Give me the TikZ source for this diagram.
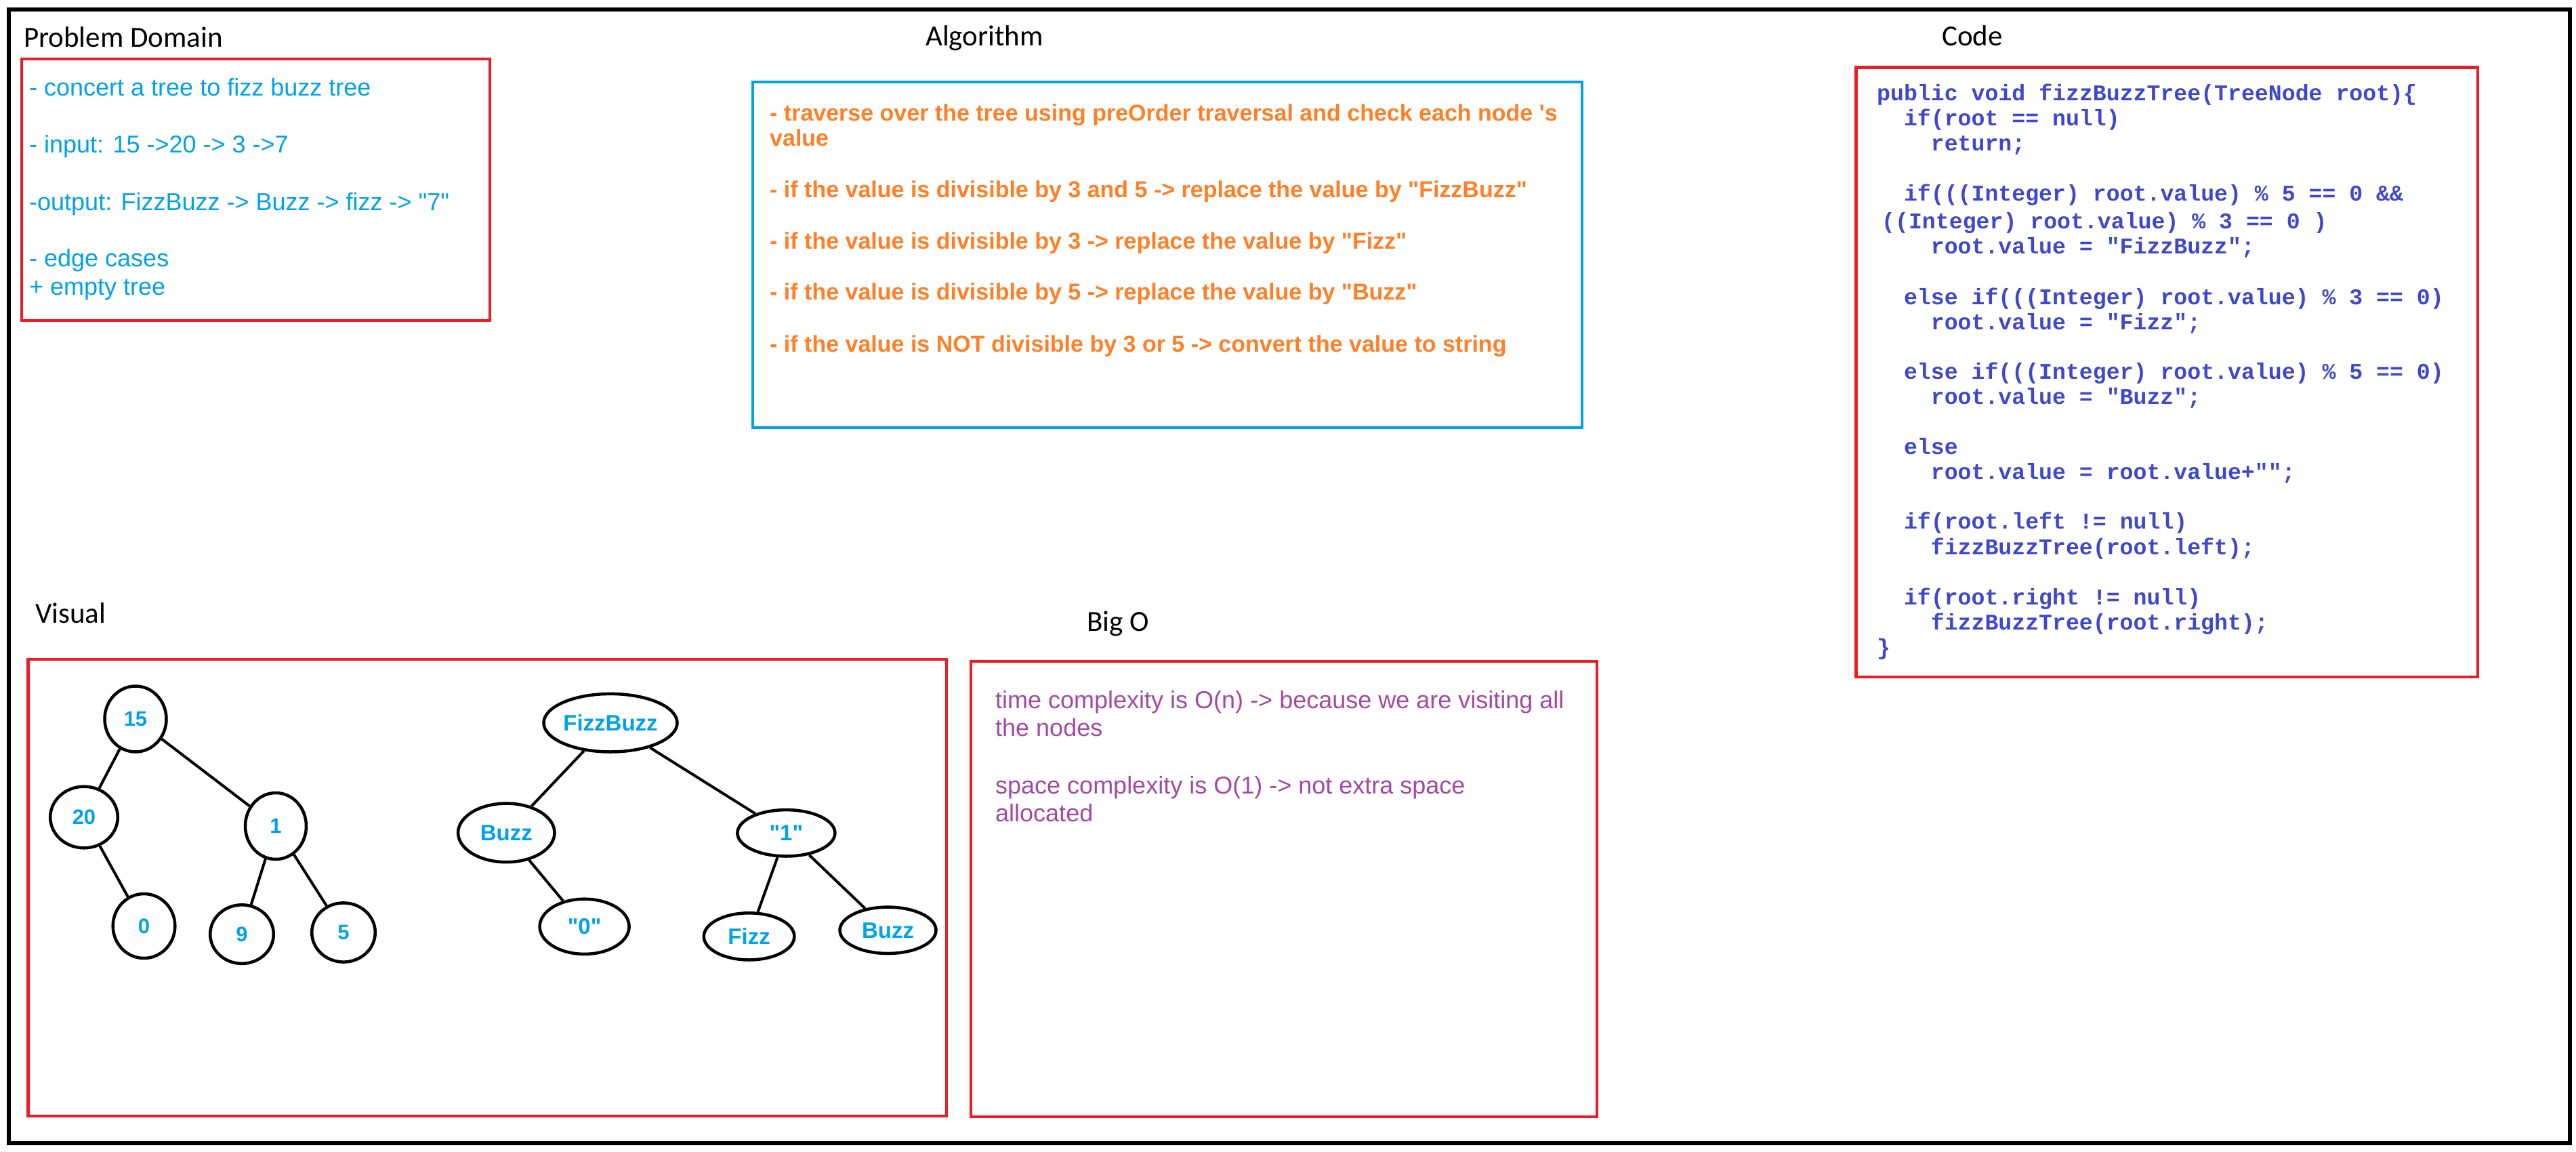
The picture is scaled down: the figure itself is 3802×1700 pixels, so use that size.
\documentclass[tikz,border=0pt]{standalone}
\usepackage{fontspec}
\newfontfamily\arialf{Liberation Sans}
\newfontfamily\calf{Carlito}
\newfontfamily\courf{Liberation Mono}
\usetikzlibrary{shapes.geometric}
\definecolor{pred}{HTML}{ED1C24}
\definecolor{pblue}{HTML}{00A2E8}
\definecolor{porange}{HTML}{FF7F27}
\definecolor{ppurple}{HTML}{A349A4}
\definecolor{pindigo}{HTML}{3F48CC}
\begin{document}
\begin{tikzpicture}[x=1pt,y=-1pt,
  title/.style={anchor=base west,inner sep=0pt,font=\calf\fontsize{43}{52}\selectfont,text=black},
  pdtext/.style={anchor=base west,inner sep=0pt,font=\arialf\fontsize{36}{41}\selectfont,text=pblue},
  algtext/.style={anchor=base west,inner sep=0pt,font=\arialf\bfseries\fontsize{34}{39}\selectfont,text=porange},
  codetext/.style={anchor=base west,inner sep=0pt,font=\courf\bfseries\fontsize{33.2}{37}\selectfont,text=pindigo},
  bigotext/.style={anchor=base west,inner sep=0pt,font=\arialf\fontsize{36}{41}\selectfont,text=ppurple},
  redbox/.style={draw=pred,line width=4.5pt},
  bluebox/.style={draw=pblue,line width=4.5pt},
  tnode/.style={ellipse,draw=black,line width=4.5pt,inner sep=0pt,text=pblue,font=\arialf\bfseries\fontsize{31}{36}\selectfont},
  wnode/.style={tnode,font=\arialf\bfseries\fontsize{33}{38}\selectfont},
  tedge/.style={draw=black,line width=4pt}
]
\fill[white] (0,0) rectangle (3802,1700);
\useasboundingbox (0,0) rectangle (3802,1700);
% outer frame
\draw[black,line width=5.5pt] (13,14) rectangle (3793,1687);

% titles
\node[title] (tpd) at (35,69) {Problem Domain};
\node[title] (talg) at (1366,67) {Algorithm};
\node[title] (tcode) at (2866,67) {Code};
\node[title] (tvis) at (52,919.5) {Visual};
\node[title] (tbig) at (1604,931) {Big O};

% Problem domain
\draw[redbox] (32,87) rectangle (723,473);
\node[pdtext] (pd1) at (43,141.7) {- concert a tree to fizz buzz tree};
\node[pdtext] (pd2) at (43,225) {- input: 15 ->20 -> 3 ->7};
\node[pdtext] (pd3) at (43,310) {-output: FizzBuzz -> Buzz -> fizz -> "7"};
\node[pdtext] (pd4) at (43,393) {- edge cases};
\node[pdtext] (pd5) at (43,435) {+ empty tree};

% Algorithm
\draw[bluebox] (1111,121) rectangle (2335,631);
\node[algtext] (al1) at (1136,178) {- traverse over the tree using preOrder traversal and check each node 's};
\node[algtext] (al2) at (1136,215) {value};
\node[algtext] (al3) at (1136,291) {- if the value is divisible by 3 and 5 -> replace the value by "FizzBuzz"};
\node[algtext] (al4) at (1136,367) {- if the value is divisible by 3 -> replace the value by "Fizz"};
\node[algtext] (al5) at (1136,442.5) {- if the value is divisible by 5 -> replace the value by "Buzz"};
\node[algtext] (al6) at (1136,519) {- if the value is NOT divisible by 3 or 5 -> convert the value to string};

% Code
\draw[redbox] (2739.4,99.4) rectangle (3657,999);
\node[codetext] (c1) at (2770,148.3) {public void fizzBuzzTree(TreeNode root)\{};
\node[codetext] (c2) at (2809.8,185.4) {if(root == null)};
\node[codetext] (c3) at (2849.6,222.5) {return;};
\node[codetext] (c4) at (2809.8,296) {if(((Integer) root.value) \% 5 == 0 \&\&};
\node[codetext] (c5) at (2777,337) {((Integer) root.value) \% 3 == 0 )};
\node[codetext] (c6) at (2849.6,374) {root.value = "FizzBuzz";};
\node[codetext] (c7) at (2809.8,449) {else if(((Integer) root.value) \% 3 == 0)};
\node[codetext] (c8) at (2849.6,486) {root.value = "Fizz";};
\node[codetext] (c9) at (2809.8,559.5) {else if(((Integer) root.value) \% 5 == 0)};
\node[codetext] (c10) at (2849.6,596.6) {root.value = "Buzz";};
\node[codetext] (c11) at (2809.8,670) {else};
\node[codetext] (c12) at (2849.6,707) {root.value = root.value+"";};
\node[codetext] (c13) at (2809.8,780.7) {if(root.left != null)};
\node[codetext] (c14) at (2849.6,818.5) {fizzBuzzTree(root.left);};
\node[codetext] (c15) at (2809.8,892.6) {if(root.right != null)};
\node[codetext] (c16) at (2849.6,929) {fizzBuzzTree(root.right);};
\node[codetext] (c17) at (2770,966) {\}};

% Visual
\draw[redbox] (41.5,973) rectangle (1397,1647);
\node[tnode,minimum width=91pt,minimum height=97pt] (n15) at (200,1061) {15};
\node[tnode,minimum width=99.6pt,minimum height=90.6pt] (n20) at (124,1206) {20};
\node[tnode,minimum width=90pt,minimum height=98pt] (n1) at (407,1219) {1};
\node[tnode,minimum width=91.6pt,minimum height=95pt] (n0) at (212.5,1366.5) {0};
\node[tnode,minimum width=93.6pt,minimum height=86.6pt] (n9) at (357,1378.6) {9};
\node[tnode,minimum width=93.6pt,minimum height=87.2pt] (n5) at (507,1376) {5};
\draw[tedge] (n15) -- (n20);
\draw[tedge] (n15) -- (n1);
\draw[tedge] (n20) -- (n0);
\draw[tedge] (n1) -- (n9);
\draw[tedge] (n1) -- (n5);

\node[wnode,minimum width=189.6pt,minimum height=85.6pt] (fb) at (901,1066.7) {FizzBuzz};
\node[wnode,minimum width=142.4pt,minimum height=86.6pt] (bz1) at (747.3,1228.9) {Buzz};
\node[wnode,minimum width=144pt,minimum height=68.4pt] (q1) at (1160.4,1229.3) {"1"};
\node[wnode,minimum width=132pt,minimum height=81.2pt] (q0) at (862.6,1367.3) {"0"};
\node[wnode,minimum width=133.6pt,minimum height=69.2pt] (fz) at (1105.6,1381.9) {Fizz};
\node[wnode,minimum width=142pt,minimum height=68.4pt] (bz2) at (1310.5,1372.8) {Buzz};
\draw[tedge] (fb) -- (bz1);
\draw[tedge] (fb) -- (q1);
\draw[tedge] (bz1) -- (q0);
\draw[tedge] (q1) -- (fz);
\draw[tedge] (q1) -- (bz2);

% Big O
\draw[redbox] (1433,976) rectangle (2357,1648);
\node[bigotext] (b1) at (1469,1045) {time complexity is O(n) -> because we are visiting all};
\node[bigotext] (b2) at (1469,1086) {the nodes};
\node[bigotext] (b3) at (1469,1171) {space complexity is O(1) -> not extra space};
\node[bigotext] (b4) at (1469,1212) {allocated};
\end{tikzpicture}
\end{document}
